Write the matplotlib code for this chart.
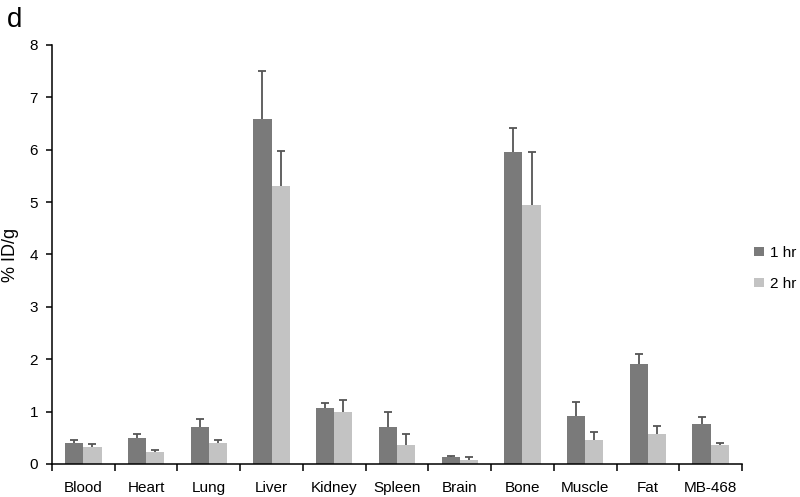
import numpy as np
import matplotlib.pyplot as plt

plt.rcParams['font.family'] = ['Liberation Sans', 'DejaVu Sans']

# données
organs = ['Blood', 'Heart', 'Lung', 'Liver', 'Kidney', 'Spleen', 'Brain',
          'Bone', 'Muscle', 'Fat', 'MB-468']
hr1 = [0.41, 0.50, 0.71, 6.58, 1.06, 0.71, 0.14, 5.95, 0.92, 1.90, 0.76]
hr1_err = [0.04, 0.07, 0.14, 0.92, 0.10, 0.28, 0.02, 0.46, 0.27, 0.20, 0.13]
hr2 = [0.32, 0.22, 0.40, 5.31, 0.99, 0.36, 0.08, 4.94, 0.46, 0.57, 0.36]
hr2_err = [0.06, 0.04, 0.05, 0.67, 0.23, 0.22, 0.05, 1.01, 0.15, 0.16, 0.04]

fig = plt.figure(figsize=(8, 4.97), dpi=100)
ax = fig.add_axes([0.065, 0.0664, 0.8625, 0.8431])

x = np.arange(len(organs))
w = 0.29

b1 = ax.bar(x - w / 2, hr1, w, color='#7a7a7a', label='1 hr')
b2 = ax.bar(x + w / 2, hr2, w, color='#c3c3c3', label='2 hr')

# barres d'erreur vers le haut seulement
for xs, vals, errs in [(x - w / 2, hr1, hr1_err), (x + w / 2, hr2, hr2_err)]:
    _, caps, _ = ax.errorbar(xs, vals, yerr=[np.zeros(len(vals)), errs],
                             fmt='none', ecolor='#555555', elinewidth=1.3,
                             capsize=3, capthick=1.3)
    caps[0].set_visible(False)

ax.set_xlim(-0.5, len(organs) - 0.5)
ax.set_ylim(0, 8)
ax.set_yticks(range(9))
ax.set_xticks(x)
ax.set_xticklabels(organs, fontsize=11)
ax.set_xticks(np.arange(len(organs) + 1) - 0.5, minor=True)
ax.tick_params(axis='x', which='major', length=0, pad=12)
ax.tick_params(axis='x', which='minor', length=5, width=1.1, direction='out')
ax.tick_params(axis='y', length=4, width=1.1, labelsize=11, pad=6)

for s in ['top', 'right']:
    ax.spines[s].set_visible(False)
for s in ['left', 'bottom']:
    ax.spines[s].set_linewidth(1.1)

ax.set_ylabel('% ID/g', fontsize=13, labelpad=8)

fig.legend(handles=[b1, b2], loc='center left', bbox_to_anchor=(0.943, 0.46),
           frameon=False, fontsize=11, handlelength=0.6, handleheight=0.6,
           handletextpad=0.4, labelspacing=1.1, borderpad=0, borderaxespad=0)

fig.text(0.008, 0.945, 'd', fontsize=20)

fig.savefig('out.png', dpi=100)
